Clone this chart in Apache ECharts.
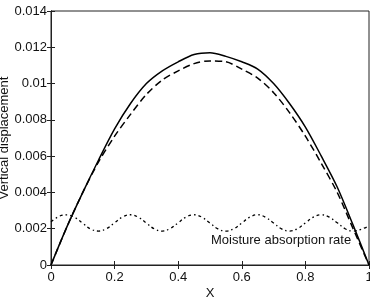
<!DOCTYPE html>
<html>
<head>
<meta charset="utf-8">
<script src="https://cdn.jsdelivr.net/npm/echarts@6/dist/echarts.min.js"></script>
<style>
    html,body{margin:0;padding:0;background:#fff;}
    #chart{width:370px;height:298px;}
</style>
</head>
<body>
<div id="chart"></div>
<script>
    // x positions of the sampled deflection curves
    var xs = [0,0.05,0.1,0.15,0.2,0.25,0.3,0.35,0.4,0.45,0.5,0.55,0.6,0.65,0.7,0.75,0.8,0.85,0.9,0.95,1];
    // solid curve
    var solidY = [0,0.0021,0.0040,0.0058,0.0075,0.0089,0.0100,0.0107,0.0112,0.0116,0.0117,0.0115,0.0112,0.0108,0.0100,0.0089,0.0076,0.0060,0.0043,0.0022,0];
    // dashed curve
    var dashedY = [0,0.0021,0.0040,0.0057,0.0071,0.0083,0.0094,0.0102,0.0107,0.0111,0.01125,0.0112,0.0108,0.0103,0.0095,0.0084,0.0071,0.0056,0.0040,0.0020,0];
    // moisture absorption rate (dash-dot)
    var moistX = [0,0.025,0.05,0.075,0.1,0.125,0.15,0.175,0.2,0.225,0.25,0.275,0.3,0.325,0.35,0.375,0.4,0.425,0.45,0.475,0.5,0.525,0.55,0.575,0.6,0.625,0.65,0.675,0.7,0.725,0.75,0.775,0.8,0.825,0.85,0.875,0.9,0.925,0.95,0.975,1];
    var moistY = [0.00238,0.00268,0.00276,0.00262,0.00230,0.00198,0.00187,0.00201,0.00233,0.00265,0.00277,0.00263,0.00231,0.00199,0.00187,0.00201,0.00233,0.00265,0.00277,0.00263,0.00231,0.00199,0.00187,0.00200,0.00232,0.00264,0.00277,0.00263,0.00231,0.00199,0.00187,0.00200,0.00232,0.00264,0.00277,0.00264,0.00233,0.00200,0.00187,0.00197,0.00215];
    var xTicks = ['0','0.2','0.4','0.6','0.8','1'];

    function pairs(a,b){
        var out=[];
        for(var i=0;i<a.length;i++){ out.push([a[i],b[i]]); }
        return out;
    }

    var font = 'Liberation Sans, Arial, sans-serif';
    var axisLine = {show:true,lineStyle:{color:'#222',width:1}};
    var tick = {show:true,inside:true,length:4,lineStyle:{color:'#222'}};

    var chart = echarts.init(document.getElementById('chart'));
    chart.setOption({
        animation:false,
        grid:{left:51,right:1,top:11,bottom:33,containLabel:false,outerBoundsMode:'none',
            show:true,borderColor:'#222',borderWidth:1},
        xAxis:[{
            type:'value',min:0,max:1,interval:0.2,
            name:'X',nameLocation:'middle',nameGap:22,nameMoveOverlap:false,
            nameTextStyle:{fontFamily:font,fontSize:13,color:'#111'},
            axisLine:axisLine,axisTick:tick,splitLine:{show:false},
            axisLabel:{fontFamily:font,fontSize:13,color:'#111',margin:6,
                formatter:function(v){ return xTicks[Math.round(v/0.2)]; }}
        },{
            type:'value',min:0,max:1,interval:0.2,position:'top',
            axisLine:axisLine,axisTick:tick,axisLabel:{show:false},splitLine:{show:false}
        }],
        yAxis:[{
            type:'value',min:0,max:0.014,interval:0.002,
            name:'Vertical displacement',nameLocation:'middle',nameGap:40,nameMoveOverlap:false,
            nameTextStyle:{fontFamily:font,fontSize:13,color:'#111'},
            axisLine:axisLine,axisTick:tick,splitLine:{show:false},
            axisLabel:{fontFamily:font,fontSize:13,color:'#111',margin:4,
                formatter:function(v){ return String(parseFloat(v.toFixed(3))); }}
        },{
            type:'value',min:0,max:0.014,interval:0.002,position:'right',
            axisLine:axisLine,axisTick:tick,axisLabel:{show:false},splitLine:{show:false}
        }],
        series:[{
            type:'line',data:pairs(xs,solidY),smooth:0.3,symbol:'none',
            lineStyle:{color:'#000',width:1.5}
        },{
            type:'line',data:pairs(xs,dashedY),smooth:0.3,symbol:'none',
            lineStyle:{color:'#000',width:1.5,type:[7,4]}
        },{
            type:'line',data:pairs(moistX,moistY),smooth:0.4,symbol:'none',
            lineStyle:{color:'#000',width:1.3,type:[3,3,1.5,3]}
        }],
        graphic:[{
            type:'text',left:211,top:234,
            style:{text:'Moisture absorption rate',font:'13px '+font,fill:'#111'}
        }]
    });
</script>
</body>
</html>
